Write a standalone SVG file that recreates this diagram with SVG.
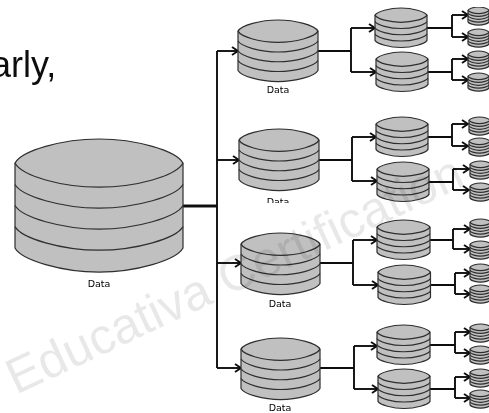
<svg xmlns="http://www.w3.org/2000/svg" width="489" height="413" viewBox="0 0 489 413">
<style>
.body{fill:#c0c0c0;stroke:#2e2e2e;stroke-width:1.2;vector-effect:non-scaling-stroke}
.band{fill:none;stroke:#2e2e2e;stroke-width:1.2;vector-effect:non-scaling-stroke}
.c{fill:none;stroke:#111;stroke-width:1.9}
.a{marker-end:url(#arrow)}
.t{stroke-width:2.8}
.lbl{font-family:"DejaVu Sans",sans-serif;font-size:9.5px;fill:#000;text-anchor:middle}
.big{font-family:"Liberation Sans",Arial,sans-serif;font-size:36px;fill:#111}
.wm{font-family:"Liberation Sans",Arial,sans-serif;font-size:50px;fill:#000;fill-opacity:.09}
</style>
<defs>
<filter id="soft" x="0" y="0" width="100%" height="100%"><feGaussianBlur stdDeviation=".35"/></filter>
<marker id="arrow" markerUnits="userSpaceOnUse" markerWidth="11" markerHeight="11" refX="8.5" refY="5.5" orient="auto">
<path d="M2.5 1.5L8.5 5.5L2.5 9.5" fill="none" stroke="#111" stroke-width="1.9"/>
</marker>
<clipPath id="cutLabel"><rect x="260" y="190" width="40" height="13"/></clipPath>
<g id="cyl">
<path class="body" d="M0 14.3C4 7 28 0 50 0S96 7 100 14.3V64.7C96 72 72 79 50 79S4 72 0 64.7Z"/>
<path class="band" d="M0 14.3C4 22 28 28.6 50 28.6S96 22 100 14.3"/>
<path class="band" d="M0 27C4 34 28 41 50 41S96 34 100 27"/>
<path class="band" d="M0 39.5C4 46.5 28 53.5 50 53.5S96 46.5 100 39.5"/>
<path class="band" d="M0 52C4 59 28 66 50 66S96 59 100 52"/>
</g>
</defs>
<rect width="489" height="413" fill="#fff"/>
<g filter="url(#soft)">
<text class="big" x="-9" y="77">arly,</text>
<g id="connectors">
<path class="c t" d="M183 206H217"/>
<path class="c" d="M217 51V368"/>
<path class="c a" d="M217 51H238"/><path class="c a" d="M217 160H239"/><path class="c a" d="M217 263H241"/><path class="c a" d="M217 368H241"/>
<path class="c" d="M317 51H351M351 28V72"/><path class="c a" d="M351 28H375"/><path class="c a" d="M351 72H376"/>
<path class="c" d="M319 160H352M352 137V181"/><path class="c a" d="M352 137H376"/><path class="c a" d="M352 181H377"/>
<path class="c" d="M320 263H353M353 240V285"/><path class="c a" d="M353 240H377"/><path class="c a" d="M353 285H378"/>
<path class="c" d="M320 368H354M354 346V389"/><path class="c a" d="M354 346H377"/><path class="c a" d="M354 389H378"/>
<path class="c" d="M427 28H452M452 15V37"/><path class="c a" d="M452 15H468"/><path class="c a" d="M452 37H468"/>
<path class="c" d="M428 72H452M452 59V80"/><path class="c a" d="M452 59H468"/><path class="c a" d="M452 80H468"/>
<path class="c" d="M428 137H452M452 124V146"/><path class="c a" d="M452 124H468"/><path class="c a" d="M452 146H468"/>
<path class="c" d="M429 182H453M453 169V190"/><path class="c a" d="M453 169H469"/><path class="c a" d="M453 190H469"/>
<path class="c" d="M430 240H453M453 229V249"/><path class="c a" d="M453 229H470"/><path class="c a" d="M453 249H470"/>
<path class="c" d="M430 285H455M455 273V294"/><path class="c a" d="M455 273H470"/><path class="c a" d="M455 294H470"/>
<path class="c" d="M430 345H455M455 332V353"/><path class="c a" d="M455 332H470"/><path class="c a" d="M455 353H470"/>
<path class="c" d="M430 389H455M455 377V398"/><path class="c a" d="M455 377H470"/><path class="c a" d="M455 398H470"/>
</g>
<g id="root"><use href="#cyl" transform="translate(15 139) scale(1.68 1.685)"/><text class="lbl" x="99" y="287">Data</text></g>
<g id="n1"><use href="#cyl" transform="translate(238 20) scale(.8 .78)"/><text class="lbl" x="278" y="93">Data</text></g>
<g id="n2"><use href="#cyl" transform="translate(239 129) scale(.8 .78)"/><text class="lbl" x="278" y="205" clip-path="url(#cutLabel)">Data</text></g>
<g id="n3"><use href="#cyl" transform="translate(241 233) scale(.79 .78)"/><text class="lbl" x="280" y="307">Data</text></g>
<g id="n4"><use href="#cyl" transform="translate(241 338) scale(.79 .78)"/><text class="lbl" x="280" y="411">Data</text></g>
<g id="n1a"><use href="#cyl" transform="translate(375 8) scale(.52 .5)"/></g>
<g id="n1b"><use href="#cyl" transform="translate(376 52) scale(.52 .5)"/></g>
<g id="n2a"><use href="#cyl" transform="translate(376 117) scale(.52 .5)"/></g>
<g id="n2b"><use href="#cyl" transform="translate(377 162) scale(.52 .5)"/></g>
<g id="n3a"><use href="#cyl" transform="translate(377 220) scale(.53 .5)"/></g>
<g id="n3b"><use href="#cyl" transform="translate(378 265) scale(.525 .5)"/></g>
<g id="n4a"><use href="#cyl" transform="translate(377 325) scale(.53 .5)"/></g>
<g id="n4b"><use href="#cyl" transform="translate(378 369) scale(.52 .5)"/></g>
<g id="l1"><use href="#cyl" transform="translate(468 7) scale(.21 .23)"/></g>
<g id="l2"><use href="#cyl" transform="translate(468 29) scale(.21 .23)"/></g>
<g id="l3"><use href="#cyl" transform="translate(468 51) scale(.21 .23)"/></g>
<g id="l4"><use href="#cyl" transform="translate(468 73) scale(.21 .23)"/></g>
<g id="l5"><use href="#cyl" transform="translate(469 117) scale(.21 .23)"/></g>
<g id="l6"><use href="#cyl" transform="translate(469 138) scale(.21 .23)"/></g>
<g id="l7"><use href="#cyl" transform="translate(470 161) scale(.21 .23)"/></g>
<g id="l8"><use href="#cyl" transform="translate(470 183) scale(.21 .23)"/></g>
<g id="l9"><use href="#cyl" transform="translate(470 219) scale(.21 .23)"/></g>
<g id="l10"><use href="#cyl" transform="translate(470 241) scale(.21 .23)"/></g>
<g id="l11"><use href="#cyl" transform="translate(470 264) scale(.21 .23)"/></g>
<g id="l12"><use href="#cyl" transform="translate(470 285) scale(.21 .23)"/></g>
<g id="l13"><use href="#cyl" transform="translate(470 324) scale(.21 .23)"/></g>
<g id="l14"><use href="#cyl" transform="translate(470 346) scale(.21 .23)"/></g>
<g id="l15"><use href="#cyl" transform="translate(470 369) scale(.21 .23)"/></g>
<g id="l16"><use href="#cyl" transform="translate(470 390) scale(.21 .23)"/></g>
</g>
<text class="wm" transform="translate(16 395) rotate(-25)">Educativa Certification</text>
</svg>
